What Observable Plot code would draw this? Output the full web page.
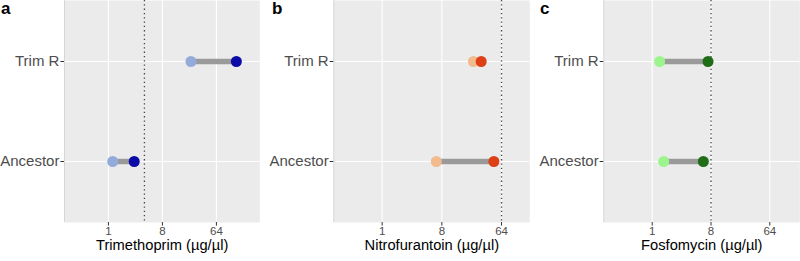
<!DOCTYPE html>
<html>
<head>
<meta charset="utf-8">
<script src="https://cdn.jsdelivr.net/npm/d3@7"></script>
<script src="https://cdn.jsdelivr.net/npm/@observablehq/plot@0.6"></script>
<style>
  html, body { margin: 0; padding: 0; background: #fff; }
  #wrap { position: relative; width: 800px; height: 261px; font-family: "Liberation Sans", Arial, sans-serif; }
  #wrap svg { position: absolute; top: 0; }
  .tag { position: absolute; top: 0; line-height: 17px; font-weight: bold; font-size: 17px; color: #000; font-family: "Liberation Sans", Arial, sans-serif; }
</style>
</head>
<body>
<div id="wrap"></div>
<script>
// ---- data ----
const categories = ["Trim R", "Ancestor"];
const panelTags = ["a", "b", "c"];
const drugs = ["Trimethoprim", "Nitrofurantoin", "Fosfomycin"];
const axisTitles = ["Trimethoprim (µg/µl)", "Nitrofurantoin (µg/µl)", "Fosfomycin (µg/µl)"];
const breakpoints = [4, 64, 8];
const lowValues = [[24, 1.18], [24, 6.6], [1.3, 1.5]];     // light points (Trim R, Ancestor)
const highValues = [[138, 2.7], [31.5, 49], [7.2, 6.1]];   // dark points (Trim R, Ancestor)
const xTicks = [1, 8, 64];
const lightColors = ["#93aadb", "#f2bb8d", "#9cf58c"];
const darkColors = ["#0b0ba8", "#dd3f16", "#1f6d17"];
// ---- layout ----
const xDomains = [[2 ** -2.44, 2 ** 8.41], [2 ** -2.43, 2 ** 7.42], [2 ** -2.47, 2 ** 7.53]];
const panelLeft = [0, 266, 533];
const panelWidth = [266, 267, 267];
const mLeft = [64, 67.3, 70.3];
const mRight = [6.7, 3.7, 0.7];
const tagLeft = [1, 272, 540];

const wrap = document.getElementById("wrap");

drugs.forEach((drug, i) => {
  const rows = categories.map((c, j) => ({cat: c, lo: lowValues[i][j], hi: highValues[i][j]}));
  const dom = xDomains[i];
  const chart = Plot.plot({
    width: panelWidth[i],
    height: 261,
    marginLeft: mLeft[i],
    marginRight: mRight[i],
    marginTop: 0,
    marginBottom: 39,
    style: {fontFamily: "Liberation Sans, Arial, sans-serif", background: "transparent", overflow: "visible"},
    x: {type: "log", base: 2, domain: dom, ticks: xTicks},
    y: {type: "point", domain: categories, padding: 0.6},
    marks: [
      Plot.frame({fill: "#ebebeb", stroke: null}),
      Plot.gridX(xTicks, {stroke: "#ffffff", strokeOpacity: 1, strokeWidth: 1.1}),
      Plot.gridY(categories, {stroke: "#ffffff", strokeOpacity: 1, strokeWidth: 1.1}),
      Plot.ruleX([dom[0]], {stroke: "#d6d6d6", strokeWidth: 1}),
      Plot.ruleX([breakpoints[i]], {stroke: "#444", strokeWidth: 1.3, strokeDasharray: "1.3,3"}),
      Plot.link(rows, {x1: "lo", x2: "hi", y1: "cat", y2: "cat", stroke: "#9a9a9a", strokeWidth: 5.5}),
      Plot.dot(rows, {x: "lo", y: "cat", r: 5.5, fill: lightColors[i], stroke: null}),
      Plot.dot(rows, {x: "hi", y: "cat", r: 5.5, fill: darkColors[i], stroke: null}),
      Plot.axisY({label: null, tickSize: 3.6, tickPadding: 1.5, fontSize: 15, stroke: "#333", fill: "#4d4d4d"}),
      Plot.axisX({ticks: xTicks, tickFormat: d => String(d), label: null, tickSize: 3.6, tickPadding: 1, fontSize: 11.5, stroke: "#333", fill: "#4d4d4d"}),
      Plot.text([axisTitles[i]], {frameAnchor: "bottom", dy: 27.5, fontSize: 14.7, fill: "#000"})
    ]
  });
  chart.style.left = panelLeft[i] + "px";
  wrap.appendChild(chart);
  const tag = document.createElement("div");
  tag.className = "tag";
  tag.style.left = tagLeft[i] + "px";
  tag.textContent = panelTags[i];
  wrap.appendChild(tag);
});
</script>
</body>
</html>
